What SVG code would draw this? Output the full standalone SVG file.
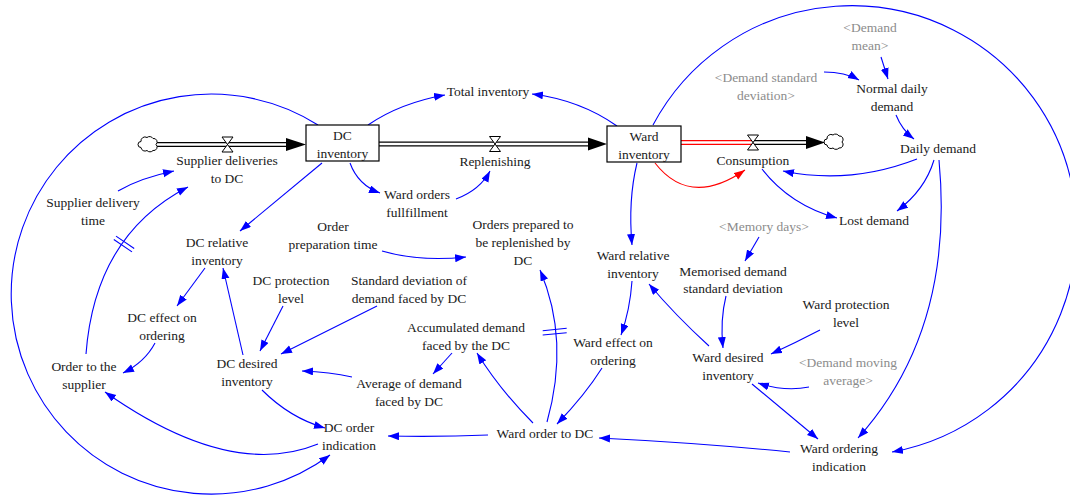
<svg xmlns="http://www.w3.org/2000/svg" width="1070" height="495" viewBox="0 0 1070 495">
  <style>
    text { font-family: "Liberation Serif", "Times New Roman", serif; font-size: 13.5px; fill: #1a1a1a; text-anchor: middle; }
    text.shadow { fill: #8c8c8c; }
    .link { fill: none; stroke: #0000ff; stroke-width: 1.1; marker-end: url(#ah); }
    .link-red { fill: none; stroke: #ff0000; stroke-width: 1.1; marker-end: url(#ahr); }
    .delay { stroke: #0000ff; stroke-width: 1.1; fill: none; }
    .stock { fill: #ffffff; stroke: #000000; stroke-width: 1.2; }
    .pipe-out { stroke: #000000; stroke-width: 5; fill: none; }
    .pipe-in { stroke: #ffffff; stroke-width: 2.6; fill: none; }
    .pipe-red { stroke: #ff0000; stroke-width: 5; fill: none; }
    .valve { fill: #ffffff; stroke: #000000; stroke-width: 1; }
    .cloud { fill: #ffffff; stroke: #000000; stroke-width: 1; }
  </style>
  <defs>
    <marker id="ah" markerUnits="userSpaceOnUse" markerWidth="12" markerHeight="9" refX="11" refY="4" orient="auto">
      <path d="M0,0 L11,4 L0,8 z" fill="#0000ff"/>
    </marker>
    <marker id="ahr" markerUnits="userSpaceOnUse" markerWidth="12" markerHeight="9" refX="11" refY="4" orient="auto">
      <path d="M0,0 L11,4 L0,8 z" fill="#ff0000"/>
    </marker>
    <path id="cloudShape" d="M-7,-3 a4,4 0 0 1 6,-4 a4,4 0 0 1 6,1 a3.5,3.5 0 0 1 3,6 a3.5,3.5 0 0 1 -3,6 a4,4 0 0 1 -6,0 a4,4 0 0 1 -6,-3 a3,3 0 0 1 0,-6 z"/>
    <path id="valveShape" d="M-5.5,-7.5 L5.5,-7.5 L-5.5,7.5 L5.5,7.5 z"/>
  </defs>

  <!-- material flows (pipes, valves, clouds) -->
  <g id="flows">
    <!-- supplier deliveries pipe -->
    <path class="pipe-out" d="M157 144.5 H290"/>
    <path class="pipe-in" d="M157 144.5 H290"/>
    <path d="M286 138 L306 144.5 L286 151 z" fill="#000"/>
    <use href="#cloudShape" class="cloud" x="148" y="144.5"/>
    <use href="#valveShape" class="valve" x="227.5" y="144.5"/>
    <!-- replenishing pipe -->
    <path class="pipe-out" d="M379 144 H591"/>
    <path class="pipe-in" d="M379 144 H591"/>
    <path d="M588 137.5 L607 144 L588 150.5 z" fill="#000"/>
    <use href="#valveShape" class="valve" x="495" y="144"/>
    <!-- consumption pipe -->
    <path class="pipe-red" d="M681 142.5 H753"/>
    <path class="pipe-in" d="M681 142.5 H753"/>
    <path class="pipe-out" d="M753 142.5 H809"/>
    <path class="pipe-in" d="M753 142.5 H809"/>
    <path d="M806 136 L825 142.5 L806 149 z" fill="#000"/>
    <use href="#cloudShape" class="cloud" x="834" y="142"/>
    <use href="#valveShape" class="valve" x="753" y="142.5"/>
  </g>

  <!-- information links -->
  <g id="connectors">
    <path class="link" d="M318 125 A200 200 0 1 0 330 455"/>
    <path class="link" d="M653 125 A225 225 0 1 1 892 452"/>
    <path class="link" d="M86 354 Q95 235 188 187"/>
    <path class="delay" d="M113.8 239.5 L132 251.9 M116 236.1 L134.2 248.5"/>
    <path class="link" d="M118 191 Q140 178 174 171"/>
    <path class="link" d="M322 163 L240 231"/>
    <path class="link" d="M350 163 Q358 185 380 193"/>
    <path class="link" d="M456 199 Q480 190 490 171"/>
    <path class="link" d="M368 125 Q400 103 445 95"/>
    <path class="link" d="M617 126 Q580 100 532 94"/>
    <path class="link" d="M637 163 Q628 200 632 245"/>
    <path class="link-red" d="M655 163 Q690 208 745 170"/>
    <path class="link" d="M917 159 Q850 185 783 171"/>
    <path class="link" d="M762 169 Q790 205 837 218"/>
    <path class="link" d="M934 160 Q925 190 897 211"/>
    <path class="link" d="M939 160 Q955 330 858 438"/>
    <path class="link" d="M881 57 L888 79"/>
    <path class="link" d="M824 72 Q845 72 859 80"/>
    <path class="link" d="M896 115 Q902 130 914 139"/>
    <path class="link" d="M759 237 L745 261"/>
    <path class="link" d="M726 296 Q720 320 723 348"/>
    <path class="link" d="M820 330 Q795 343 771 354"/>
    <path class="link" d="M809 387 Q785 392 758 383"/>
    <path class="link" d="M752 384 L818 439"/>
    <path class="link" d="M709 346 Q675 315 649 284"/>
    <path class="link" d="M632 281 Q630 310 621 335"/>
    <path class="link" d="M602 368 Q585 395 557 424"/>
    <path class="link" d="M790 452 Q700 443 599 438"/>
    <path class="link" d="M488 435 Q440 437 388 436"/>
    <path class="link" d="M533 423 Q500 390 477 353"/>
    <path class="link" d="M547 422 Q570 340 540 270"/>
    <path class="delay" d="M542.7 330.7 L566.7 328.3 M542.7 335 L566.7 332.7"/>
    <path class="link" d="M452 353 L433 374"/>
    <path class="link" d="M352 377 Q330 372 302 371"/>
    <path class="link" d="M377 306 L281 354"/>
    <path class="link" d="M283 306 L260 351"/>
    <path class="link" d="M243 355 L223 268"/>
    <path class="link" d="M205 268 L177 306"/>
    <path class="link" d="M155 343 Q145 362 123 373"/>
    <path class="link" d="M262 390 Q290 418 325 428"/>
    <path class="link" d="M318 444 Q230 480 105 392"/>
    <path class="link" d="M382 251 Q420 262 466 257"/>
  </g>

  <!-- stocks -->
  <g id="dc-inventory">
    <rect class="stock" x="306" y="125" width="73" height="36"/>
    <text x="342.5" y="140">DC</text>
    <text x="342.5" y="158">inventory</text>
  </g>
  <g id="ward-inventory">
    <rect class="stock" x="607" y="126" width="74" height="36"/>
    <text x="644" y="141">Ward</text>
    <text x="644" y="159">inventory</text>
  </g>

  <!-- flow rates -->
  <g id="supplier-deliveries">
    <text x="227" y="165">Supplier deliveries</text>
    <text x="227" y="183">to DC</text>
  </g>
  <g id="replenishing">
    <text x="495" y="166">Replenishing</text>
  </g>
  <g id="consumption">
    <text x="753" y="165">Consumption</text>
  </g>

  <!-- auxiliaries -->
  <g id="total-inventory"><text x="488" y="96">Total inventory</text></g>
  <g id="ward-orders-fullfillment">
    <text x="417" y="199">Ward orders</text>
    <text x="417" y="217">fullfillment</text>
  </g>
  <g id="orders-prepared">
    <text x="523" y="229">Orders prepared to</text>
    <text x="523" y="247">be replenished by</text>
    <text x="523" y="265">DC</text>
  </g>
  <g id="supplier-delivery-time">
    <text x="93" y="207">Supplier delivery</text>
    <text x="93" y="225">time</text>
  </g>
  <g id="dc-relative-inventory">
    <text x="217" y="247">DC relative</text>
    <text x="217" y="265">inventory</text>
  </g>
  <g id="order-preparation-time">
    <text x="333" y="231">Order</text>
    <text x="333" y="249">preparation time</text>
  </g>
  <g id="dc-protection-level">
    <text x="291" y="285">DC protection</text>
    <text x="291" y="303">level</text>
  </g>
  <g id="sd-demand-dc">
    <text x="409" y="285">Standard deviation of</text>
    <text x="409" y="303">demand faced by DC</text>
  </g>
  <g id="dc-effect-on-ordering">
    <text x="162" y="322">DC effect on</text>
    <text x="162" y="340">ordering</text>
  </g>
  <g id="order-to-supplier">
    <text x="84" y="371">Order to the</text>
    <text x="84" y="389">supplier</text>
  </g>
  <g id="dc-desired-inventory">
    <text x="247" y="368">DC desired</text>
    <text x="247" y="386">inventory</text>
  </g>
  <g id="dc-order-indication">
    <text x="349" y="432">DC order</text>
    <text x="349" y="450">indication</text>
  </g>
  <g id="accumulated-demand-dc">
    <text x="466" y="332">Accumulated demand</text>
    <text x="466" y="350">faced by the DC</text>
  </g>
  <g id="average-demand-dc">
    <text x="409" y="388">Average of demand</text>
    <text x="409" y="406">faced by DC</text>
  </g>
  <g id="ward-order-to-dc"><text x="545" y="438">Ward order to DC</text></g>
  <g id="ward-effect-on-ordering">
    <text x="613" y="347">Ward effect on</text>
    <text x="613" y="365">ordering</text>
  </g>
  <g id="ward-relative-inventory">
    <text x="633" y="260">Ward relative</text>
    <text x="633" y="278">inventory</text>
  </g>
  <g id="demand-mean">
    <text class="shadow" x="870" y="32">&lt;Demand</text>
    <text class="shadow" x="870" y="50">mean&gt;</text>
  </g>
  <g id="demand-sd">
    <text class="shadow" x="766" y="82">&lt;Demand standard</text>
    <text class="shadow" x="766" y="100">deviation&gt;</text>
  </g>
  <g id="normal-daily-demand">
    <text x="892" y="93">Normal daily</text>
    <text x="892" y="111">demand</text>
  </g>
  <g id="daily-demand"><text x="938" y="153">Daily demand</text></g>
  <g id="lost-demand"><text x="874" y="225">Lost demand</text></g>
  <g id="memory-days"><text class="shadow" x="764" y="231">&lt;Memory days&gt;</text></g>
  <g id="memorised-demand-sd">
    <text x="733" y="276">Memorised demand</text>
    <text x="733" y="293">standard deviation</text>
  </g>
  <g id="ward-protection-level">
    <text x="846" y="309">Ward protection</text>
    <text x="846" y="327">level</text>
  </g>
  <g id="ward-desired-inventory">
    <text x="728" y="362">Ward desired</text>
    <text x="728" y="380">inventory</text>
  </g>
  <g id="demand-moving-average">
    <text class="shadow" x="848" y="367">&lt;Demand moving</text>
    <text class="shadow" x="848" y="385">average&gt;</text>
  </g>
  <g id="ward-ordering-indication">
    <text x="839" y="453">Ward ordering</text>
    <text x="839" y="471">indication</text>
  </g>
</svg>
